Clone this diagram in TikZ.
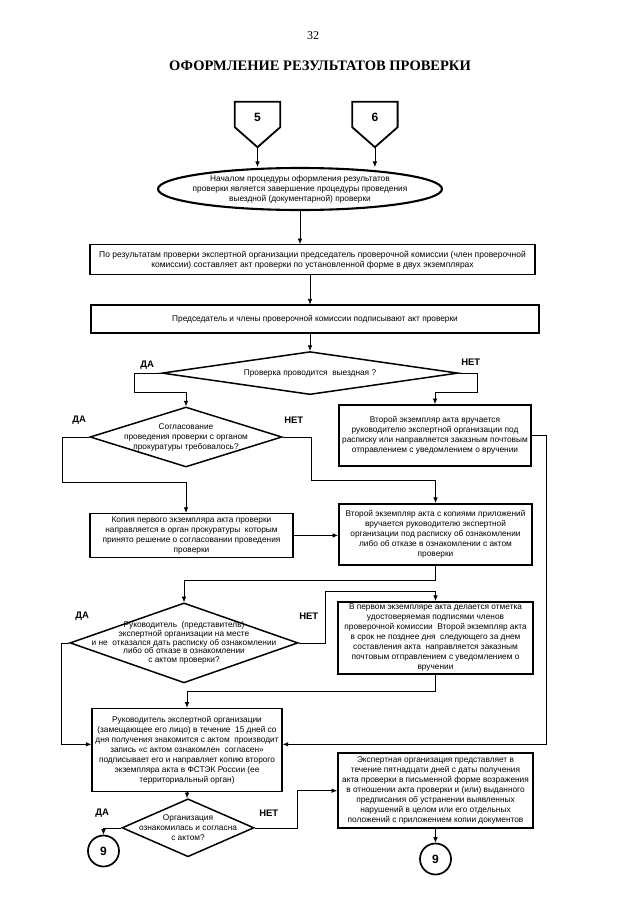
\documentclass[tikz,border=0pt]{standalone}
\usepackage{fontspec}
\setmainfont{Liberation Serif}
\setsansfont{Liberation Sans}
\usetikzlibrary{arrows.meta, calc, positioning, shapes.geometric}

\newcommand\boxfont{\sffamily\fontsize{8.3}{10}\selectfont}
\newcommand\qfont{\sffamily\fontsize{8.3}{10}\selectfont}

\begin{document}
\begin{tikzpicture}[x=1pt, y=-1pt,
node distance = 30pt and 40pt,
box/.style      = {draw, line width=1.4pt, inner sep=0.5pt, align=center, font=\boxfont},
heavy/.style    = {box, line width=1.9pt},
decision/.style = {draw, diamond, line width=1.5pt, inner sep=0pt},
qtext/.style    = {align=center, font=\qfont, inner sep=0pt},
answer/.style   = {inner sep=0pt, font=\sffamily\bfseries\fontsize{9.5}{10}\selectfont},
inlet/.style    = {minimum width=45pt, minimum height=30pt, inner sep=0pt,
                   font=\sffamily\bfseries\fontsize{12}{12}\selectfont},
outlet/.style   = {draw, circle, line width=1.7pt, minimum size=31pt, inner sep=0pt,
                   font=\sffamily\bfseries\fontsize{12}{12}\selectfont},
flow/.style     = {line width=0.6pt, -{Latex[length=5.5pt, width=4.5pt]}},
                    ]
\fill[white] (0,0) rectangle (640,905);
\useasboundingbox (0,0) rectangle (640,905);
%---
\node (page)  at (313,36) {\fontsize{12}{12}\selectfont 32};
\node (title) at (320,66) {\fontsize{14.5}{15}\selectfont\bfseries ОФОРМЛЕНИЕ РЕЗУЛЬТАТОВ ПРОВЕРКИ};
%-------
\node (in5) [inlet] at (257.5,117)  {5};
\node (in6) [inlet, right=72pt of in5] {6};
\foreach \n in {5,6}
{
\coordinate (tip\n) at ([yshift=-15pt]in\n.south);
\draw[line width=1.8pt, line join=miter] (in\n.north west) -- (in\n.north east)
    -- ([yshift=5pt]in\n.south east) -- (tip\n)
    -- ([yshift=5pt]in\n.south west) -- cycle;
}
%
\node (start) [draw, ellipse, line width=2.1pt, minimum width=284pt, minimum height=42pt]
        at (300,189) {};
\node (starttxt) [qtext] at (start)
        {Началом процедуры оформления результатов\\
         проверки является завершение процедуры проведения\\
         выездной (документарной) проверки};
%
\node (act)  [box, font=\sffamily\fontsize{8.5}{10}\selectfont,
              minimum width=445pt, minimum height=30pt, below=33pt of start, xshift=12.5pt]
        {По результатам проверки экспертной организации председатель проверочной комиссии (член проверочной\\
         комиссии) составляет акт проверки по установленной форме в двух экземплярах};
\node (sign) [box, minimum width=448pt, minimum height=28pt, below=29pt of act, xshift=2.5pt]
        {Председатель и члены проверочной комиссии подписывают акт проверки};
%
\node (q1) [decision, minimum width=296pt, minimum height=43pt, below=17pt of sign, xshift=-5pt] {};
\node (q1txt) [qtext] at (q1) {Проверка проводится\ \ выездная ?};
%
\node (q2) [decision, minimum width=192pt, minimum height=60pt] at (186,437) {};
\node (q2txt) [qtext] at (q2) {Согласование\\ проведения проверки с органом\\ прокуратуры требовалось?};
\node (msg)  [heavy, minimum width=192pt, minimum height=61pt] at (435,435.5)
        {Второй экземпляр акта вручается\\
         руководителю экспертной организации под\\
         расписку или направляется заказным почтовым\\
         отправлением с уведомлением о вручении};
%
\node (copy) [box, minimum width=203pt, minimum height=44pt, below=45pt of q2, xshift=5.5pt]
        {Копия первого экземпляра акта проверки\\
         направляется в орган прокуратуры\ \ которым\\
         принято решение о согласовании проведения\\
         проверки};
\node (hand) [heavy, minimum width=193pt, minimum height=61pt, below=36pt of msg, xshift=0.5pt]
        {Второй экземпляр акта с копиями приложений\\
         вручается руководителю экспертной\\
         организации под расписку об ознакомлении\\
         либо об отказе в ознакомлении с актом\\
         проверки};
%
\node (q3) [decision, minimum width=228pt, minimum height=80pt, below=44pt of copy, xshift=-7.5pt] {};
\node (q3txt) [qtext, font=\sffamily\fontsize{8.3}{8.6}\selectfont] at (q3)
        {Руководитель\ \ (представитель)\\
         экспертной организации на месте\\
         и не\ \ отказался дать расписку об ознакомлении\\
         либо об отказе в ознакомлении\\
         с актом проверки?};
\node (mark) [heavy, minimum width=195pt, minimum height=72pt, below=35pt of hand]
        {В первом экземпляре акта делается отметка\\
         удостоверяемая подписями членов\\
         проверочной комиссии\ \ Второй экземпляр акта\\
         в срок не позднее дня\ \ следующего за днем\\
         составления акта\ \ направляется заказным\\
         почтовым отправлением с уведомлением о\\
         вручении};
%
\node (sign2) [box, minimum width=190pt, minimum height=83pt, below=24pt of q3, xshift=3pt]
        {Руководитель экспертной организации\\
         (замещающее его лицо) в течение\ \ 15 дней со\\
         дня получения знакомится с актом\ \ производит\\
         запись «с актом ознакомлен\ \ согласен»\\
         подписывает его и направляет копию второго\\
         экземпляра акта в ФСТЭК России (ее\\
         территориальный орган)};
\node (exp)  [heavy, minimum width=195pt, minimum height=75pt, below=77pt of mark]
        {Экспертная организация представляет в\\
         течение пятнадцати дней с даты получения\\
         акта проверки в письменной форме возражения\\
         в отношении акта проверки и (или) выданного\\
         предписания об устранении выявленных\\
         нарушений в целом или его отдельных\\
         положений с приложением копии документов};
%
\node (q4) [decision, minimum width=132pt, minimum height=58pt, below=6pt of sign2, xshift=1pt] {};
\node (q4txt) [qtext] at (q4) {Организация\\ ознакомилась и согласна\\ с актом?};
\node (end9a) [outlet] at (103.5,851) {9};
\node (end9b) [outlet, below=14pt of exp] {9};
% answers
\node (yes1) [answer] at ($(q1.west)+(-14,-7.5)$) {ДА};
\node (no1)  [answer] at ($(q1.east)+(12,-10.5)$) {НЕТ};
\node (yes2) [answer] at ($(q2.west)+(-10,-17)$)  {ДА};
\node (no2)  [answer] at ($(q2.east)+(11,-17)$)   {НЕТ};
\node (yes3) [answer] at ($(q3.west)+(13,-27)$)   {ДА};
\node (no3)  [answer] at ($(q3.east)+(10,-27)$)   {НЕТ};
\node (yes4) [answer] at ($(q4.west)+(-19,-15)$)  {ДА};
\node (no4)  [answer] at ($(q4.east)+(14,-15)$)   {НЕТ};
% edges
\draw[flow] (tip5) -- (tip5 |- start.north);
\draw[flow] (tip6) -- (tip6 |- start.north);
\draw[flow] (start.south) -- (start.south |- act.north);
\draw[flow] (act.south -| q1.north) -- (sign.north -| q1.north);
\draw[flow] (sign.south -| q1.north) -- (q1.north);
%---
\draw[flow] (q1.west) -- ++(-27,0) |- ($(q2.north)+(0,-14)$) -- (q2.north);
\draw[flow] (q1.east) -- ++(19,0)  |- ($(msg.north)+(0,-12)$) -- (msg.north);
%---
\draw[flow] (q2.west) -- ++(-27,0) |- ($(q2.south)+(0,15)$) -- (q2.south |- copy.north);
\draw[flow] (q2.east) -- ++(29,0)  |- ($(hand.north)+(0,-23)$) -- (hand.north);
\draw[flow] (copy.east) -- (copy.east -| hand.west);
\draw[flow] (msg.east) -- ++(14,0) |- ([yshift=5.5pt]sign2.east);
\draw[flow] (hand.south) -- ++(0,14) -| (q3.north);
%---
\draw[flow] (q3.west) -- ++(-8,0)  |- ([yshift=5.5pt]sign2.west);
\draw[flow] (q3.east) -- ++(27,0)  |- ($(mark.north)+(0,-10)$) -- (mark.north);
\draw[flow] (mark.south) -- ++(0,17) -| (sign2.north);
\draw[flow] (sign2.south) -- (sign2.south |- q4.north);
%---
\draw[flow] (q4.west) -| (end9a.north);
\draw[flow] (q4.east) -- ++(43,0)  |- ([yshift=-0.5pt]exp.west);
\draw[flow] (exp.south) -- (end9b.north);
\end{tikzpicture}
\end{document}
